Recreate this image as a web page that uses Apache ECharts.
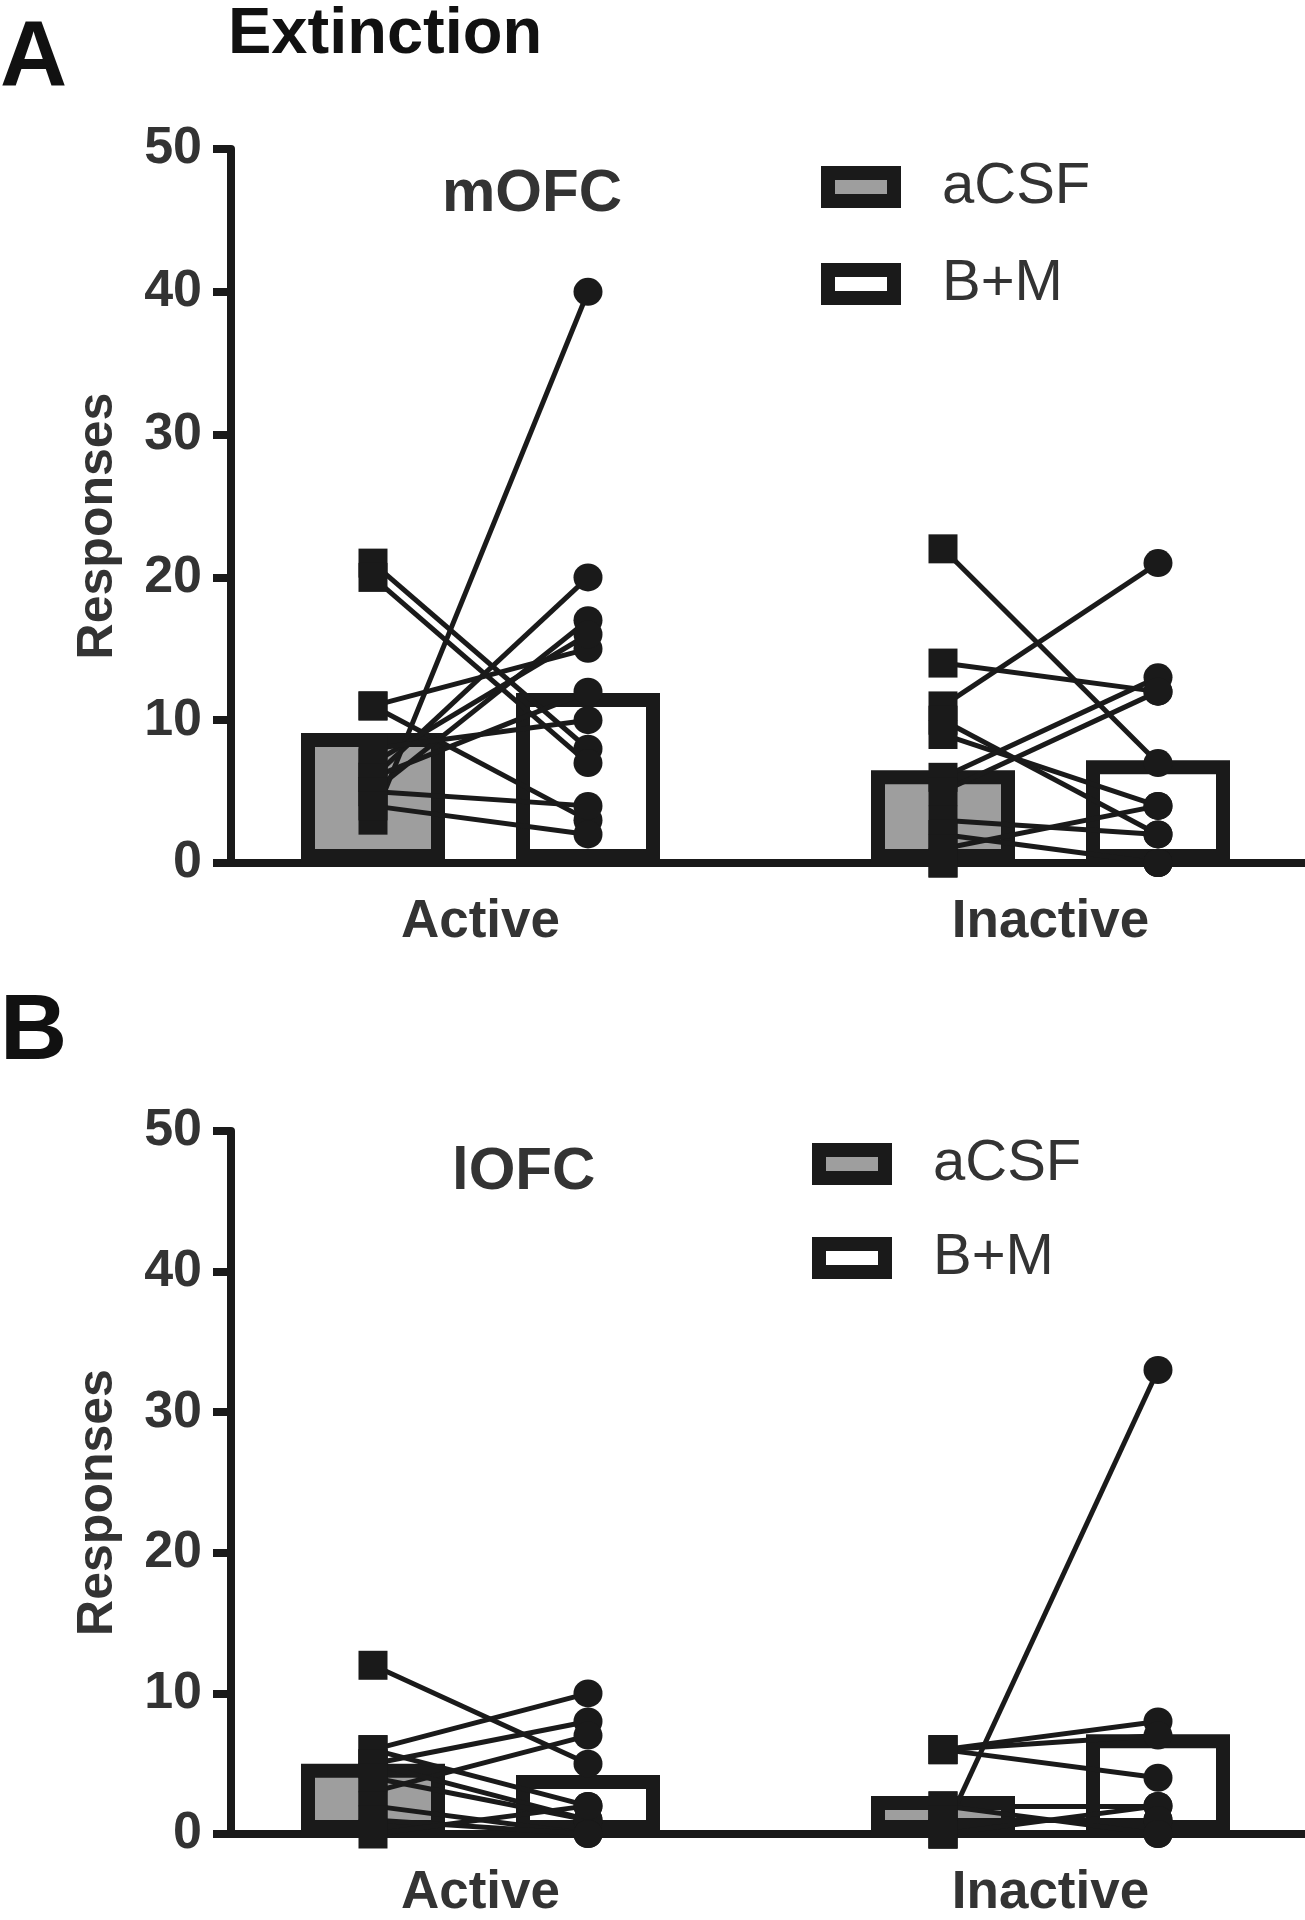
<!DOCTYPE html>
<html><head><meta charset="utf-8">
<script src="https://cdn.jsdelivr.net/npm/echarts@6/dist/echarts.min.js"></script>
<style>html,body{margin:0;padding:0;background:#fff}#c{width:1305px;height:1920px}</style>
</head><body><div id="c"></div>
<script>
// ---- data ----
const categories = ['Active', 'Inactive'];
const groups = ['aCSF', 'B+M'];

// Panel A: mOFC (bar heights, then paired individual subjects aCSF -> B+M)
const mofcBarACSF = [9.1, 6.5];
const mofcBarBM   = [11.9, 7.2];
const mofcActiveACSF   = [21, 20, 11, 11, 3, 6, 5, 7, 6, 8, 5, 4];
const mofcActiveBM     = [8, 7, 15, 3, 40, 20, 17, 16, 12, 10, 4, 2];
const mofcInactiveACSF = [22, 14, 11, 10, 9, 6, 5, 3, 2, 1, 0, 0];
const mofcInactiveBM   = [7, 12, 21, 2, 4, 13, 12, 2, 0, 4, 0, 0];

// Panel B: lOFC
const lofcBarACSF = [5.0, 2.7];
const lofcBarBM   = [4.2, 7.1];
const lofcActiveACSF   = [12, 6, 5, 3, 6, 5, 4, 2, 1, 0];
const lofcActiveBM     = [5, 10, 8, 7, 2, 1, 1, 0, 0, 2];
const lofcInactiveACSF = [6, 6, 6, 0, 2, 1, 2, 0, 1, 0];
const lofcInactiveBM   = [8, 7, 4, 33, 2, 1, 0, 2, 1, 0];

const yTicks = [0, 10, 20, 30, 40, 50];

// ---- build chart ----
const FONT = '"Liberation Sans", Arial, sans-serif';
const INK = '#1a1a1a';
const TXT = '#333333';
const AXIS_X = 231;
const OFF = 0.1886;             // half-distance between paired bars (category units)
const X_MIN = 1 - (480.5 - AXIS_X) / 570;
const X_MAX = 1 + (1305 - 480.5) / 570;

const panels = [
  { region: 'mOFC', top: 149, bottom: 1920 - 863,
    bars: [mofcBarACSF, mofcBarBM],
    subj: [[mofcActiveACSF, mofcActiveBM], [mofcInactiveACSF, mofcInactiveBM]] },
  { region: 'lOFC', top: 1131, bottom: 1920 - 1841,
    bars: [lofcBarACSF, lofcBarBM],
    subj: [[lofcActiveACSF, lofcActiveBM], [lofcInactiveACSF, lofcInactiveBM]] }
];

const grid = [], xAxis = [], yAxis = [], series = [];
panels.forEach((p, i) => {
  grid.push({ left: AXIS_X, right: 0, top: p.top, bottom: p.bottom, containLabel: false });
  xAxis.push({
    type: 'value', gridIndex: i, min: X_MIN, max: X_MAX,
    axisLine: { show: true, onZero: false, lineStyle: { color: INK, width: 8 } },
    axisTick: { show: false }, splitLine: { show: false },
    axisLabel: {
      customValues: [1, 2],
      formatter: v => categories[Math.round(v) - 1],
      fontSize: 53, fontWeight: 'bold', color: TXT, fontFamily: FONT, margin: 33
    }
  });
  yAxis.push({
    type: 'value', gridIndex: i, min: yTicks[0], max: yTicks[yTicks.length - 1], interval: 10,
    axisLine: { show: true, onZero: false, lineStyle: { color: INK, width: 8 } },
    axisTick: { show: true, length: 18, lineStyle: { color: INK, width: 8 } },
    splitLine: { show: false },
    axisLabel: { fontSize: 52, fontWeight: 'bold', color: TXT, fontFamily: FONT, margin: 29 },
    name: 'Responses', nameLocation: 'middle', nameRotate: 90, nameGap: 108,
    nameTextStyle: { fontSize: 50, fontWeight: 'bold', color: TXT, fontFamily: FONT, padding: [0, 40, 0, 0] }
  });
  const fills = ['#9e9e9e', '#ffffff'];
  groups.forEach((g, gi) => {
    series.push({
      type: 'bar', name: g, xAxisIndex: i, yAxisIndex: i,
      barWidth: 144, barGap: '-100%', z: 2,
      itemStyle: { color: fills[gi], borderColor: INK, borderWidth: 14 },
      data: categories.map((c, k) => [k + 1 + (gi === 0 ? -OFF : OFF), p.bars[gi][k]])
    });
  });
  const lineData = [], sq = [], ci = [];
  categories.forEach((c, k) => {
    const a = p.subj[k][0], b = p.subj[k][1];
    a.forEach((v, j) => {
      lineData.push({ coords: [[k + 1 - OFF, v], [k + 1 + OFF, b[j]]] });
      sq.push([k + 1 - OFF, v]);
      ci.push([k + 1 + OFF, b[j]]);
    });
  });
  series.push({
    type: 'lines', coordinateSystem: 'cartesian2d', xAxisIndex: i, yAxisIndex: i, z: 3,
    lineStyle: { color: INK, width: 5, opacity: 1 }, data: lineData, silent: true
  });
  series.push({
    type: 'scatter', name: 'pts-sq-' + i, xAxisIndex: i, yAxisIndex: i, z: 4,
    symbol: 'rect', symbolSize: 29, itemStyle: { color: INK, opacity: 1 }, data: sq
  });
  series.push({
    type: 'scatter', name: 'pts-ci-' + i, xAxisIndex: i, yAxisIndex: i, z: 4,
    symbol: 'circle', symbolSize: [29, 28], itemStyle: { color: INK, opacity: 1 }, data: ci
  });
});

const legendBase = {
  orient: 'vertical', padding: 0, icon: 'rect',
  itemWidth: 66, itemHeight: 28,
  itemStyle: { borderWidth: 14, borderColor: INK },
  textStyle: { fontSize: 58, color: TXT, fontFamily: FONT, lineHeight: 60, padding: [0, 0, 0, 43] },
  data: groups
};

const titleStyle = (fs, col) => ({ fontSize: fs, fontWeight: 'bold', color: col, fontFamily: FONT });

const option = {
  animation: false,
  backgroundColor: '#ffffff',
  title: [
    { text: 'A', left: 0, top: 13, padding: 0, textStyle: titleStyle(93, '#111') },
    { text: 'Extinction', left: 228, top: 3, padding: 0, textStyle: titleStyle(65, '#111') },
    { text: 'mOFC', left: 442, top: 164, padding: 0, textStyle: titleStyle(60, TXT) },
    { text: 'B', left: 0, top: 987, padding: 0, textStyle: titleStyle(93, '#111') },
    { text: 'lOFC', left: 452, top: 1142, padding: 0, textStyle: titleStyle(60, TXT) }
  ],
  legend: [
    Object.assign({}, legendBase, { left: 821, top: 157, itemGap: 37 }),
    Object.assign({}, legendBase, { left: 812, top: 1134, itemGap: 34 })
  ],
  grid, xAxis, yAxis, series
};

const chart = echarts.init(document.getElementById('c'), null, { renderer: 'canvas' });
chart.setOption(option);
</script></body></html>
